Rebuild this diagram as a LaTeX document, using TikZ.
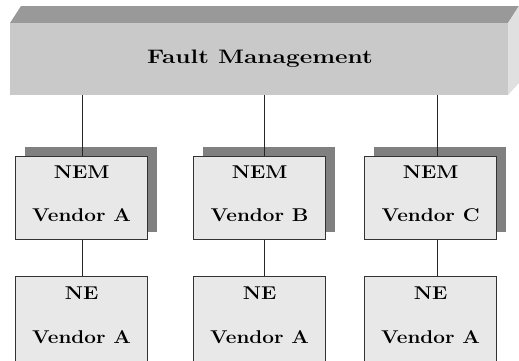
\documentclass[tikz,border=0pt]{standalone}
\newcommand{\wlbl}[1]{\scalebox{1.12}[1]{\fontsize{18.5}{21}\selectfont\bfseries #1}}
\begin{document}
\begin{tikzpicture}[x=1pt,y=-1pt,
  box/.style={draw=black!80,line width=1.2pt,fill=black!9,minimum width=132pt,minimum height=83pt,inner sep=0pt},
  lbl/.style={inner sep=0pt},
  link/.style={draw=black!85,line width=1pt},
  shadowc/.style={fill=black!50}]
\useasboundingbox (0,0) rectangle (519,360);
% 3D bar
\fill[black!40] (10,23) -- (21,6) -- (519,6) -- (508,23) -- cycle;
\fill[black!12] (508,23) -- (519,6) -- (519,83) -- (508,95) -- cycle;
\fill[black!21] (10,23) rectangle (508,95);
\node[inner sep=0pt] (fm) at (260,59) {\scalebox{1.25}[1]{\fontsize{19.5}{22}\selectfont\bfseries Fault Management}};
\coordinate (fmA) at (82,95);
\coordinate (fmB) at (264,95);
\coordinate (fmC) at (437,95);
% NEM boxes with shadows
\foreach \x in {15,193,364} {
  \fill[shadowc] (\x+10,147) rectangle (\x+142,232);
}
\node[box,anchor=north west] (nemA) at (15,156) {};
\node[box,anchor=north west] (nemB) at (193,156) {};
\node[box,anchor=north west] (nemC) at (364,156) {};
\node[lbl] at ([yshift=-16pt]nemA.north) {\wlbl{NEM}};
\node[lbl] at ([yshift=-59pt]nemA.north) {\wlbl{Vendor A}};
\node[lbl] at ([yshift=-16pt]nemB.north) {\wlbl{NEM}};
\node[lbl] at ([yshift=-59pt]nemB.north) {\wlbl{Vendor B}};
\node[lbl] at ([yshift=-16pt]nemC.north) {\wlbl{NEM}};
\node[lbl] at ([yshift=-59pt]nemC.north) {\wlbl{Vendor C}};
% NE boxes
\node[box,anchor=north west,minimum height=100pt] (neA) at (15,276) {};
\node[box,anchor=north west,minimum height=100pt] (neB) at (193,276) {};
\node[box,anchor=north west,minimum height=100pt] (neC) at (364,276) {};
\node[lbl] at ([yshift=-17pt]neA.north) {\wlbl{NE}};
\node[lbl] at ([yshift=-61pt]neA.north) {\wlbl{Vendor A}};
\node[lbl] at ([yshift=-17pt]neB.north) {\wlbl{NE}};
\node[lbl] at ([yshift=-61pt]neB.north) {\wlbl{Vendor A}};
\node[lbl] at ([yshift=-17pt]neC.north) {\wlbl{NE}};
\node[lbl] at ([yshift=-61pt]neC.north) {\wlbl{Vendor A}};
% connectors
\draw[link] (fmA) -- (fmA |- nemA.north);
\draw[link] (fmB) -- (fmB |- nemB.north);
\draw[link] (fmC) -- (fmC |- nemC.north);
\draw[link] (fmA |- nemA.south) -- (fmA |- neA.north);
\draw[link] (fmB |- nemB.south) -- (fmB |- neB.north);
\draw[link] (fmC |- nemC.south) -- (fmC |- neC.north);
\end{tikzpicture}
\end{document}
